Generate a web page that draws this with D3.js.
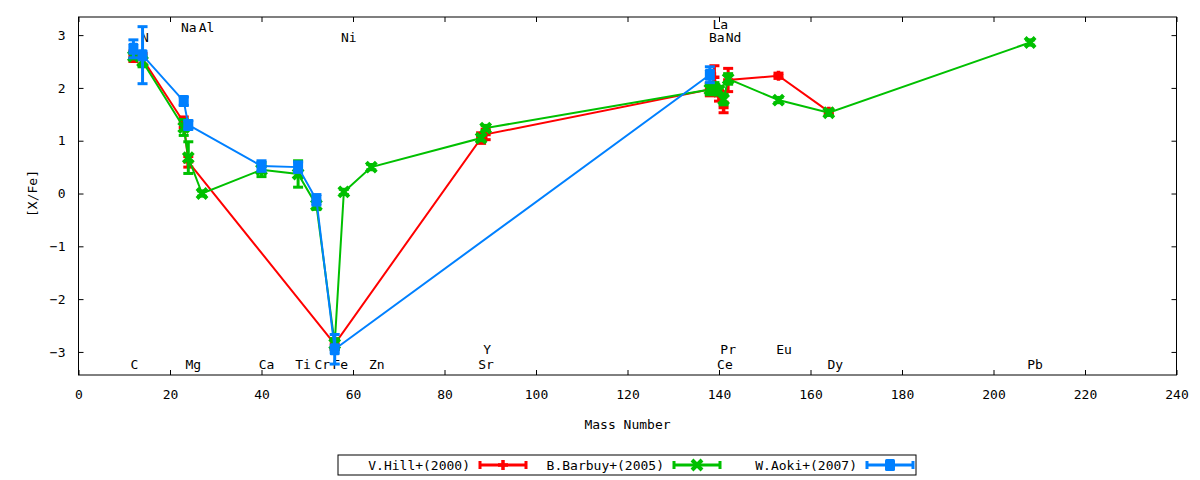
<!DOCTYPE html>
<html>
<head>
<meta charset="utf-8">
<script src="https://cdn.jsdelivr.net/npm/d3@7"></script>
<style>
  body { margin: 0; background: #fff; }
  text { font-family: "DejaVu Sans Mono", monospace; font-size: 13px; fill: #000; }
</style>
</head>
<body>
<div id="chart"></div>
<script>
/* abundance data, one set of arrays per paper */
var hillMass = [12, 14, 23, 24, 56, 88, 89, 138, 139, 140, 141, 142, 153, 164]
var hillVal  = [2.60, 2.55, 1.35, 0.60, -2.85, 1.05, 1.12, 1.97, 2.20, 1.85, 1.63, 2.15, 2.23, 1.55]
var hillErr  = [0.10, 0.10, 0.10, 0.10, 0.10, 0.10, 0.10, 0.12, 0.22, 0.10, 0.10, 0.22, 0.05, 0.05]

var barbuyMass = [12, 14, 23, 24, 27, 40, 48, 52, 56, 58, 64, 88, 89, 138, 139, 140, 141, 142, 153, 164, 208]
var barbuyVal  = [2.60, 2.50, 1.25, 0.68, 0.00, 0.45, 0.37, -0.22, -2.85, 0.03, 0.50, 1.05, 1.24, 1.97, 2.00, 1.95, 1.78, 2.17, 1.77, 1.53, 2.86]
var barbuyErr  = [0.05, 0.10, 0.15, 0.30, 0.05, 0.13, 0.25, 0.08, 0.10, 0.05, 0.05, 0.05, 0.05, 0.10, 0.10, 0.08, 0.10, 0.10, 0.05, 0.05, 0.05]

var aokiMass = [12, 14, 23, 24, 40, 48, 52, 56, 138]
var aokiVal  = [2.74, 2.62, 1.75, 1.30, 0.52, 0.50, -0.12, -2.95, 2.25]
var aokiErr  = [0.17, 0.54, 0.08, 0.08, 0.10, 0.10, 0.10, 0.28, 0.15]

/* element labels (x in mass number, y in [X/Fe]) */
var elemNames = ["C", "N", "Na", "Mg", "Al", "Ca", "Ti", "Cr", "Fe", "Ni", "Zn", "Sr", "Y", "Ba", "La", "Ce", "Pr", "Nd", "Eu", "Dy", "Pb"]
var elemX     = [12.2, 14.5, 24.1, 25.1, 28.0, 41.1, 49.1, 53.3, 57.2, 59.1, 65.2, 89.1, 89.3, 139.5, 140.3, 141.3, 142.0, 143.2, 154.2, 165.4, 209.1]
var elemY     = [-3.23, 2.95, 3.15, -3.23, 3.15, -3.23, -3.23, -3.23, -3.23, 2.95, -3.23, -3.23, -2.95, 2.95, 3.20, -3.23, -2.95, 2.95, -2.95, -3.23, -3.23]

var xTicks = d3.range(0, 241, 20)
var yTicks = [-3, -2, -1, 0, 1, 2, 3]

var seriesNames  = ["V.Hill+(2000)", "B.Barbuy+(2005)", "W.Aoki+(2007)"]
var seriesColors = ["#ff0000", "#00c000", "#0080ff"]
var seriesShapes = ["plus", "cross", "box"]

function zip(mass, val, err) {
  return mass.map(function(m, i) { return { x: m, y: val[i], e: err[i] } })
}
var series = [
  zip(hillMass, hillVal, hillErr),
  zip(barbuyMass, barbuyVal, barbuyErr),
  zip(aokiMass, aokiVal, aokiErr)
]

var layout = {
  width: 1200,
  height: 480,
  left: 78.5,
  right: 1176.5,
  top: 17,
  bottom: 375,
  tickLen: 5,
  capHalf: 5,
  lineWidth: 2,
  barWidth: 3
}

var x = d3.scaleLinear().domain([0, 240]).range([layout.left, layout.right])
var y = d3.scaleLinear().domain([-3.437, 3.343]).range([layout.bottom, layout.top])

var svg = d3.select("#chart").append("svg")
  .attr("width", layout.width)
  .attr("height", layout.height)

/* axes: ticks inward on all four sides, like gnuplot mirror */
var plotW = layout.right - layout.left
var plotH = layout.bottom - layout.top

svg.append("g")
  .attr("transform", "translate(0," + layout.bottom + ")")
  .call(d3.axisBottom(x).tickValues(xTicks).tickSizeInner(-layout.tickLen).tickSizeOuter(0).tickPadding(15))
svg.append("g")
  .attr("transform", "translate(0," + layout.top + ")")
  .call(d3.axisTop(x).tickValues(xTicks).tickSizeInner(-layout.tickLen).tickSizeOuter(0).tickFormat(""))
svg.append("g")
  .attr("transform", "translate(" + layout.left + ",0)")
  .call(d3.axisLeft(y).tickValues(yTicks).tickFormat(d3.format("d")).tickSizeInner(-layout.tickLen).tickSizeOuter(0).tickPadding(13))
svg.append("g")
  .attr("transform", "translate(" + layout.right + ",0)")
  .call(d3.axisRight(y).tickValues(yTicks).tickSizeInner(-layout.tickLen).tickSizeOuter(0).tickFormat(""))

svg.selectAll(".domain").remove()
svg.selectAll(".tick line").attr("stroke", "#000")
svg.selectAll(".tick text")
  .style("font-family", "DejaVu Sans Mono, monospace")
  .style("font-size", "13px")
  .attr("fill", "#000")

svg.append("rect")
  .attr("x", layout.left)
  .attr("y", layout.top)
  .attr("width", plotW)
  .attr("height", plotH)
  .attr("fill", "none")
  .attr("stroke", "#000")
  .attr("stroke-width", 1)

svg.append("text")
  .text("[X/Fe]")
  .attr("text-anchor", "middle")
  .attr("transform", "translate(32," + y(0) + ") rotate(-90)")
  .attr("dy", "0.35em")

svg.append("text")
  .text("Mass Number")
  .attr("text-anchor", "middle")
  .attr("x", (layout.left + layout.right) / 2)
  .attr("y", 429)

/* element name labels */
svg.selectAll(".elem").data(elemNames).enter()
  .append("text")
  .attr("class", "elem")
  .text(function(d) { return d })
  .attr("text-anchor", "middle")
  .attr("x", function(d, i) { return x(elemX[i]) })
  .attr("y", function(d, i) { return y(elemY[i]) })
  .attr("dy", "0.35em")

/* marker drawing */
function drawMarker(g, shape, color, cx, cy) {
  if (shape === "plus") {
    g.append("path")
      .attr("d", "M" + (cx - 5) + "," + cy + "h10M" + cx + "," + (cy - 5) + "v10")
      .attr("stroke", color).attr("stroke-width", 3.5).attr("fill", "none")
  } else if (shape === "cross") {
    g.append("path")
      .attr("d", "M" + (cx - 5) + "," + (cy - 5) + "l10,10M" + (cx - 5) + "," + (cy + 5) + "l10,-10")
      .attr("stroke", color).attr("stroke-width", 4).attr("fill", "none")
  } else {
    g.append("rect")
      .attr("x", cx - 5).attr("y", cy - 6)
      .attr("width", 10).attr("height", 12)
      .attr("rx", 1.5)
      .attr("fill", color)
  }
}

var line = d3.line()
  .x(function(d) { return x(d.x) })
  .y(function(d) { return y(d.y) })

series.forEach(function(data, s) {
  var color = seriesColors[s]
  var g = svg.append("g").attr("class", "series" + s)

  g.append("path")
    .datum(data)
    .attr("d", line)
    .attr("fill", "none")
    .attr("stroke", color)
    .attr("stroke-width", layout.lineWidth)

  var bars = g.selectAll(".err").data(data).enter()
  bars.append("line")
    .attr("x1", function(d) { return x(d.x) })
    .attr("x2", function(d) { return x(d.x) })
    .attr("y1", function(d) { return y(d.y - d.e) })
    .attr("y2", function(d) { return y(d.y + d.e) })
    .attr("stroke", color).attr("stroke-width", layout.barWidth)
  bars.append("line")
    .attr("x1", function(d) { return x(d.x) - layout.capHalf })
    .attr("x2", function(d) { return x(d.x) + layout.capHalf })
    .attr("y1", function(d) { return y(d.y + d.e) })
    .attr("y2", function(d) { return y(d.y + d.e) })
    .attr("stroke", color).attr("stroke-width", layout.barWidth)
  bars.append("line")
    .attr("x1", function(d) { return x(d.x) - layout.capHalf })
    .attr("x2", function(d) { return x(d.x) + layout.capHalf })
    .attr("y1", function(d) { return y(d.y - d.e) })
    .attr("y2", function(d) { return y(d.y - d.e) })
    .attr("stroke", color).attr("stroke-width", layout.barWidth)

  data.forEach(function(d) {
    drawMarker(g, seriesShapes[s], color, x(d.x), y(d.y))
  })
})

/* legend box below the plot */
var legend = { x: 338, y: 455, w: 578, h: 20 }
var legendTextEnd = [470, 664, 857]
var sampleLen = 46

var key = svg.append("g").attr("class", "legend")
key.append("rect")
  .attr("x", legend.x).attr("y", legend.y)
  .attr("width", legend.w).attr("height", legend.h)
  .attr("fill", "#fff").attr("stroke", "#000").attr("stroke-width", 1)

seriesNames.forEach(function(name, s) {
  var color = seriesColors[s]
  var cy = legend.y + legend.h / 2
  var x0 = legendTextEnd[s] + 10
  var x1 = x0 + sampleLen
  key.append("text")
    .text(name)
    .attr("text-anchor", "end")
    .attr("x", legendTextEnd[s])
    .attr("y", cy)
    .attr("dy", "0.35em")
  key.append("line")
    .attr("x1", x0).attr("x2", x1).attr("y1", cy).attr("y2", cy)
    .attr("stroke", color).attr("stroke-width", 3)
  key.append("path")
    .attr("d", "M" + x0 + "," + (cy - 4) + "v8M" + x1 + "," + (cy - 4) + "v8")
    .attr("stroke", color).attr("stroke-width", 3)
  drawMarker(key, seriesShapes[s], color, (x0 + x1) / 2, cy)
})
</script>
</body>
</html>
